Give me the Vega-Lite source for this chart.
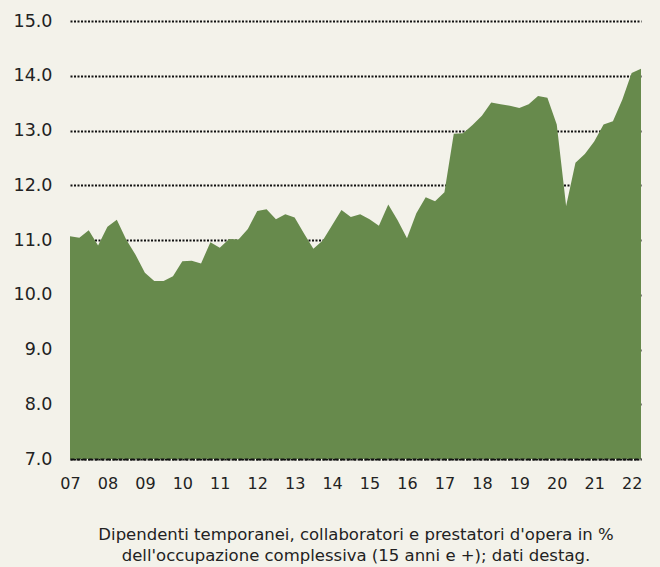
{
  "$schema": "https://vega.github.io/schema/vega-lite/v6.json",
  "width": 571,
  "height": 438,
  "autosize": {"type": "none"},
  "padding": {"left": 70, "top": 21, "right": 19, "bottom": 108},
  "background": "#f3f2ea",
  "config": {"view": {"stroke": null}},
  "data": {
    "values": [
      {"q": "2007Q1", "v": 11.07}, {"q": "2007Q2", "v": 11.04}, {"q": "2007Q3", "v": 11.18}, {"q": "2007Q4", "v": 10.90},
      {"q": "2008Q1", "v": 11.24}, {"q": "2008Q2", "v": 11.37}, {"q": "2008Q3", "v": 11.01}, {"q": "2008Q4", "v": 10.73},
      {"q": "2009Q1", "v": 10.40}, {"q": "2009Q2", "v": 10.25}, {"q": "2009Q3", "v": 10.25}, {"q": "2009Q4", "v": 10.34},
      {"q": "2010Q1", "v": 10.61}, {"q": "2010Q2", "v": 10.62}, {"q": "2010Q3", "v": 10.57}, {"q": "2010Q4", "v": 10.96},
      {"q": "2011Q1", "v": 10.86}, {"q": "2011Q2", "v": 11.02}, {"q": "2011Q3", "v": 11.01}, {"q": "2011Q4", "v": 11.20},
      {"q": "2012Q1", "v": 11.53}, {"q": "2012Q2", "v": 11.56}, {"q": "2012Q3", "v": 11.38}, {"q": "2012Q4", "v": 11.47},
      {"q": "2013Q1", "v": 11.41}, {"q": "2013Q2", "v": 11.12}, {"q": "2013Q3", "v": 10.84}, {"q": "2013Q4", "v": 10.99},
      {"q": "2014Q1", "v": 11.27}, {"q": "2014Q2", "v": 11.55}, {"q": "2014Q3", "v": 11.42}, {"q": "2014Q4", "v": 11.47},
      {"q": "2015Q1", "v": 11.38}, {"q": "2015Q2", "v": 11.26}, {"q": "2015Q3", "v": 11.65}, {"q": "2015Q4", "v": 11.36},
      {"q": "2016Q1", "v": 11.03}, {"q": "2016Q2", "v": 11.49}, {"q": "2016Q3", "v": 11.78}, {"q": "2016Q4", "v": 11.71},
      {"q": "2017Q1", "v": 11.87}, {"q": "2017Q2", "v": 12.94}, {"q": "2017Q3", "v": 12.95}, {"q": "2017Q4", "v": 13.10},
      {"q": "2018Q1", "v": 13.27}, {"q": "2018Q2", "v": 13.51}, {"q": "2018Q3", "v": 13.48}, {"q": "2018Q4", "v": 13.45},
      {"q": "2019Q1", "v": 13.41}, {"q": "2019Q2", "v": 13.48}, {"q": "2019Q3", "v": 13.63}, {"q": "2019Q4", "v": 13.60},
      {"q": "2020Q1", "v": 13.11}, {"q": "2020Q2", "v": 11.62}, {"q": "2020Q3", "v": 12.41}, {"q": "2020Q4", "v": 12.57},
      {"q": "2021Q1", "v": 12.80}, {"q": "2021Q2", "v": 13.11}, {"q": "2021Q3", "v": 13.17}, {"q": "2021Q4", "v": 13.56},
      {"q": "2022Q1", "v": 14.05}, {"q": "2022Q2", "v": 14.13}
    ]
  },
  "mark": {"type": "area", "color": "#678a4c", "clip": true, "interpolate": "linear"},
  "encoding": {
    "x": {
      "field": "q",
      "type": "ordinal",
      "sort": null,
      "scale": {"type": "point", "padding": 0},
      "axis": {
        "values": ["2007Q1","2008Q1","2009Q1","2010Q1","2011Q1","2012Q1","2013Q1","2014Q1","2015Q1","2016Q1","2017Q1","2018Q1","2019Q1","2020Q1","2021Q1","2022Q1"],
        "labelExpr": "slice(datum.value, 2, 4)",
        "labelAngle": 0,
        "labelFont": "DejaVu Sans",
        "labelFontSize": 16,
        "labelColor": "#222222",
        "labelPadding": 16,
        "ticks": false,
        "domain": true,
        "domainColor": "#111111",
        "domainWidth": 2,
        "domainDash": [4, 2],
        "grid": false,
        "zindex": 1,
        "title": ["Dipendenti temporanei, collaboratori e prestatori d'opera in %", "dell'occupazione complessiva (15 anni e +); dati destag."],
        "titleFont": "DejaVu Sans",
        "titleFontSize": 16.5,
        "titleFontWeight": "normal",
        "titleColor": "#222222",
        "titleLineHeight": 21,
        "titlePadding": 35
      }
    },
    "y": {
      "field": "v",
      "type": "quantitative",
      "scale": {"domain": [7, 15], "nice": false, "zero": false},
      "axis": {
        "values": [7, 8, 9, 10, 11, 12, 13, 14, 15],
        "format": ".1f",
        "labelFont": "DejaVu Sans",
        "labelFontSize": 17.5,
        "labelColor": "#222222",
        "labelPadding": 18,
        "ticks": false,
        "domain": false,
        "grid": true,
        "gridColor": "#111111",
        "gridWidth": 2,
        "gridDash": [2, 1.5],
        "title": null,
        "zindex": 0
      }
    }
  }
}
